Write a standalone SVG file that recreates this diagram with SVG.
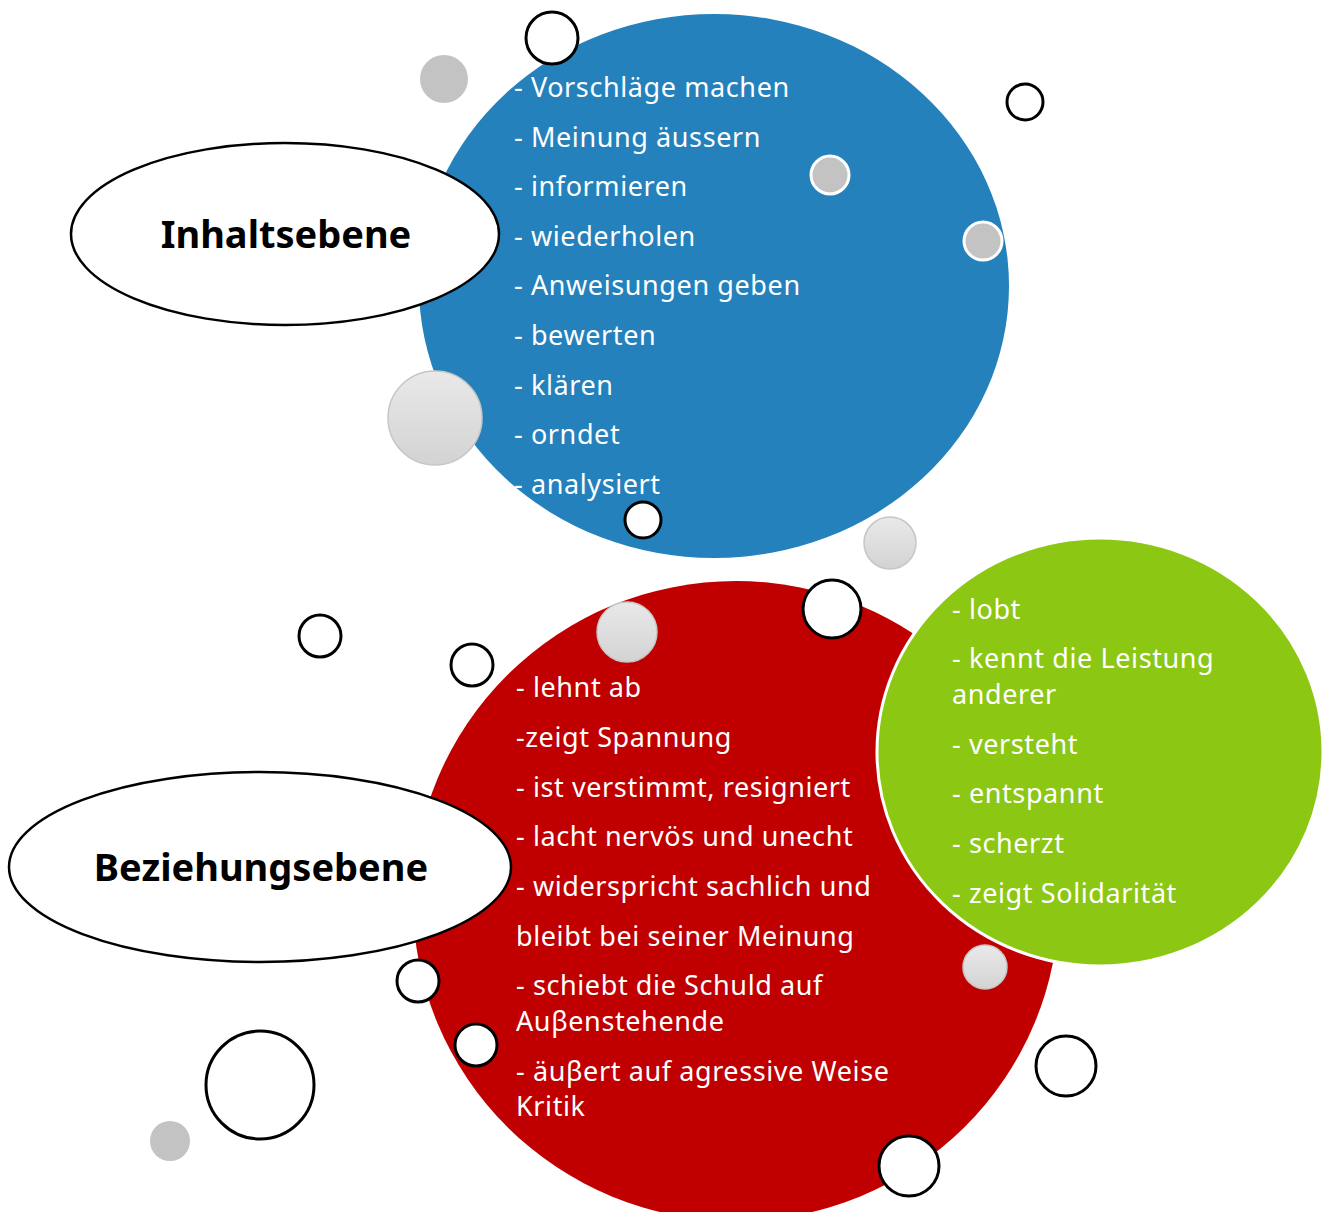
<svg xmlns="http://www.w3.org/2000/svg" width="1329" height="1212" viewBox="0 0 1329 1212">
  <defs>
    <linearGradient id="pearl" x1="0" y1="0" x2="0" y2="1">
      <stop offset="0" stop-color="#e9e9e9"/>
      <stop offset="1" stop-color="#d3d3d3"/>
    </linearGradient>
    <style>
      .list { font-family: "Noto Sans", "Open Sans", sans-serif; font-size: 27px; letter-spacing: 0.6px; fill: #ffffff; }
      .label { font-family: "Noto Sans", "Open Sans", sans-serif; font-size: 38px; font-weight: bold; fill: #000000; text-anchor: middle; }
      .bubble { fill: #ffffff; stroke: #000000; stroke-width: 3; }
      .dot { fill: #c3c3c3; }
      .dot-ring { fill: #c3c3c3; stroke: #ffffff; stroke-width: 3; }
      .pearl { fill: url(#pearl); stroke: #c6c6c6; stroke-width: 1.5; }
      .tag { fill: #ffffff; stroke: #000000; stroke-width: 2.5; }
    </style>
  </defs>

  <!-- content level -->
  <g id="inhalt">
    <ellipse cx="714" cy="286" rx="295" ry="272" fill="#2581bc"/>
    <text class="list" x="514">
      <tspan x="514" y="97">- Vorschläge machen</tspan>
      <tspan x="514" y="147">- Meinung äussern</tspan>
      <tspan x="514" y="196">- informieren</tspan>
      <tspan x="514" y="246">- wiederholen</tspan>
      <tspan x="514" y="295">- Anweisungen geben</tspan>
      <tspan x="514" y="345">- bewerten</tspan>
      <tspan x="514" y="395">- klären</tspan>
      <tspan x="514" y="444">- orndet</tspan>
      <tspan x="514" y="494">- analysiert</tspan>
    </text>
  </g>

  <!-- relationship level -->
  <g id="beziehung">
    <ellipse cx="736" cy="901" rx="323" ry="320" fill="#c00000"/>
    <text class="list">
      <tspan x="516" y="697">- lehnt ab</tspan>
      <tspan x="516" y="747">-zeigt Spannung</tspan>
      <tspan x="516" y="797">- ist verstimmt, resigniert</tspan>
      <tspan x="516" y="846">- lacht nervös und unecht</tspan>
      <tspan x="516" y="896">- widerspricht sachlich und</tspan>
      <tspan x="516" y="946">bleibt bei seiner Meinung</tspan>
      <tspan x="516" y="995">- schiebt die Schuld auf</tspan>
      <tspan x="516" y="1031">Auβenstehende</tspan>
      <tspan x="516" y="1081">- äuβert auf agressive Weise</tspan>
      <tspan x="516" y="1116">Kritik</tspan>
    </text>
  </g>

  <!-- positive relationship signals -->
  <g id="positiv">
    <ellipse cx="1100" cy="752" rx="223" ry="214" fill="#8cc714" stroke="#ffffff" stroke-width="3"/>
    <text class="list">
      <tspan x="952" y="619">- lobt</tspan>
      <tspan x="952" y="668">- kennt die Leistung</tspan>
      <tspan x="952" y="704">anderer</tspan>
      <tspan x="952" y="754">- versteht</tspan>
      <tspan x="952" y="803">- entspannt</tspan>
      <tspan x="952" y="853">- scherzt</tspan>
      <tspan x="952" y="903">- zeigt Solidarität</tspan>
    </text>
  </g>

  <!-- labels -->
  <g id="label-inhalt">
    <ellipse class="tag" cx="285" cy="234" rx="214" ry="91"/>
    <text class="label" x="286" y="248">Inhaltsebene</text>
  </g>
  <g id="label-beziehung">
    <ellipse class="tag" cx="260" cy="867" rx="251" ry="95"/>
    <text class="label" x="261" y="881">Beziehungsebene</text>
  </g>

  <!-- decorative bubbles -->
  <g id="bubbles">
    <circle class="bubble" cx="552" cy="38" r="26"/>
    <circle class="bubble" cx="1025" cy="102" r="18"/>
    <circle class="bubble" cx="643" cy="520" r="18"/>
    <circle class="bubble" cx="320" cy="636" r="21"/>
    <circle class="bubble" cx="472" cy="665" r="21"/>
    <circle class="bubble" cx="832" cy="609" r="29"/>
    <circle class="bubble" cx="418" cy="981" r="21"/>
    <circle class="bubble" cx="476" cy="1045" r="21"/>
    <circle class="bubble" cx="260" cy="1085" r="54"/>
    <circle class="bubble" cx="1066" cy="1066" r="30"/>
    <circle class="bubble" cx="909" cy="1166" r="30"/>

    <circle class="dot" cx="444" cy="79" r="24"/>
    <circle class="dot" cx="170" cy="1141" r="20"/>
    <circle class="dot-ring" cx="830" cy="175" r="19"/>
    <circle class="dot-ring" cx="983" cy="241" r="19"/>

    <circle class="pearl" cx="435" cy="418" r="47"/>
    <circle class="pearl" cx="890" cy="543" r="26"/>
    <circle class="pearl" cx="627" cy="632" r="30"/>
    <circle class="pearl" cx="985" cy="967" r="22"/>
  </g>
</svg>
